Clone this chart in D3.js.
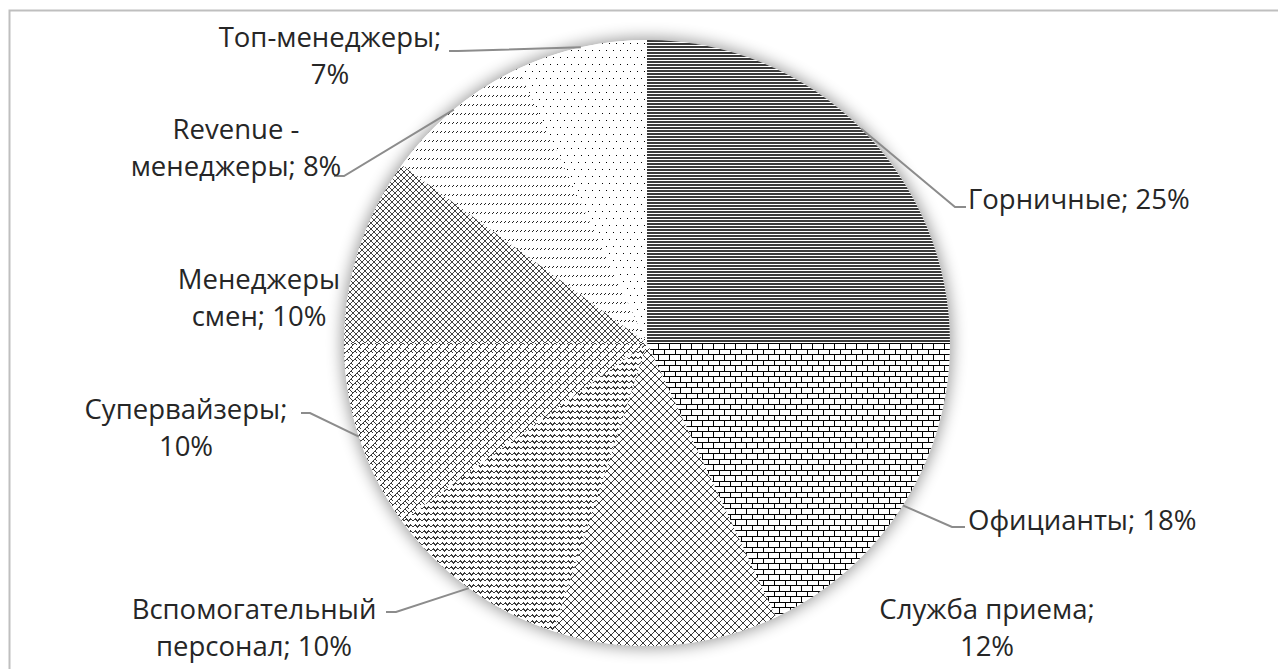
<!DOCTYPE html>
<html>
<head>
<meta charset="utf-8">
<script src="https://cdn.jsdelivr.net/npm/d3@7"></script>
<style>
  body { margin: 0; background: #fff; }
  svg { display: block; }
</style>
</head>
<body>
<div id="chart"></div>
<script>
const categories = ["Горничные", "Официанты", "Служба приема", "Вспомогательный персонал",
                    "Супервайзеры", "Менеджеры смен", "Revenue - менеджеры", "Топ-менеджеры"];
const shares = [25, 18, 12, 10, 10, 10, 8, 7];
const labelLines = [
  ["Горничные; 25%"],
  ["Официанты; 18%"],
  ["Служба приема;", "12%"],
  ["Вспомогательный", "персонал; 10%"],
  ["Супервайзеры;", "10%"],
  ["Менеджеры", "смен; 10%"],
  ["Revenue -", "менеджеры; 8%"],
  ["Топ-менеджеры;", "7%"]
];

// layout of the labels (x / first baseline, anchor, leader elbow and end)
const labelLayout = [
  {x: 968, y: 209, anchor: "start", elbow: [955, 207], end: [966, 207]},
  {x: 968, y: 530, anchor: "start", elbow: [952, 527], end: [965, 527]},
  {x: 987, y: 619, anchor: "middle"},
  {x: 254, y: 619, anchor: "middle", elbow: [396, 612], end: [386, 612]},
  {x: 186, y: 419, anchor: "middle", elbow: [310, 413], end: [301, 413]},
  {x: 259, y: 289, anchor: "middle"},
  {x: 236, y: 139, anchor: "middle", elbow: [344, 176], end: [334, 176]},
  {x: 330, y: 47, anchor: "middle", elbow: [458, 51], end: [449, 51]}
];

const W = 1278, H = 669;
const cx = 647, cy = 343, radius = 303;

const svg = d3.select("#chart").append("svg")
  .attr("width", W).attr("height", H);

const defs = svg.append("defs");

// soft glow under the pie
const glow = defs.append("filter").attr("id", "glow")
  .attr("x", "-20%").attr("y", "-20%").attr("width", "140%").attr("height", "140%");
glow.append("feGaussianBlur").attr("stdDeviation", 8);

function pattern(id, w, h) {
  const p = defs.append("pattern").attr("id", id)
    .attr("patternUnits", "userSpaceOnUse")
    .attr("width", w).attr("height", h);
  p.append("rect").attr("width", w).attr("height", h).attr("fill", "#fff");
  return p;
}

function stroke(p, d, color) {
  p.append("path").attr("d", d)
    .attr("stroke", color).attr("stroke-width", 1)
    .attr("fill", "none").attr("shape-rendering", "crispEdges");
}

// horizontal lines
pattern("p0", 8, 3).append("rect")
  .attr("width", 8).attr("height", 2).attr("fill", "#3a3a3a");

// bricks
let p = pattern("p1", 11, 11);
stroke(p, "M0,0.5H11M0,6.5H11M0.5,0V6M6.5,6V11", "#000");

// large diagonal cross
p = pattern("p2", 8, 8);
stroke(p, "M0,0L8,8M8,0L0,8", "#3a3a3a");

// wave
p = pattern("p3", 9, 6);
stroke(p, "M0,4L2.25,1.5L4.5,4L6.75,1.5L9,4", "#3a3a3a");

// weave
p = pattern("p4", 8, 8);
stroke(p, "M0,4L4,0M4,8L8,4M4,0L6,2M0,4L2,6M6,6L8,8M2,2L0,0", "#3a3a3a");

// small diagonal cross
p = pattern("p5", 6, 6);
stroke(p, "M0,0L6,6M6,0L0,6", "#444");

// dashed upward diagonal
p = pattern("p6", 4, 9);
stroke(p, "M0.5,6.5L3,4", "#222");

// dots
p = pattern("p7", 7, 14);
p.append("rect").attr("x", 1).attr("y", 1).attr("width", 1).attr("height", 1).attr("fill", "#000");
p.append("rect").attr("x", 4).attr("y", 8).attr("width", 1).attr("height", 1).attr("fill", "#000");

// frame
svg.append("rect")
  .attr("x", 9.5).attr("y", 10.5)
  .attr("width", W + 20).attr("height", H + 20)
  .attr("fill", "none").attr("stroke", "#bfbfbf").attr("stroke-width", 2);

const g = svg.append("g").attr("transform", `translate(${cx},${cy})`);

g.append("circle").attr("r", radius + 2)
  .attr("fill", "#000").attr("opacity", 0.4)
  .attr("filter", "url(#glow)");
g.append("circle").attr("r", radius).attr("fill", "#fff");

const pie = d3.pie().sort(null).value(d => d)(shares);
const arc = d3.arc().innerRadius(0).outerRadius(radius);

g.selectAll("path.slice")
  .data(pie)
  .join("path")
  .attr("class", "slice")
  .attr("d", arc)
  .attr("fill", (d, i) => `url(#p${i})`);

// leader lines
const edge = d3.arc().innerRadius(radius).outerRadius(radius);
const leaders = svg.append("g").attr("fill", "none")
  .attr("stroke", "#8c8c8c").attr("stroke-width", 2);

pie.forEach(function(d, i) {
  const L = labelLayout[i];
  if (!L.elbow) return;
  const c = edge.centroid(d);
  const start = [cx + c[0], cy + c[1]];
  leaders.append("polyline")
    .attr("points", [start, L.elbow, L.end].map(q => q.join(",")).join(" "));
});

// labels
const labels = svg.append("g")
  .attr("font-family", "'Open Sans', 'Noto Sans', sans-serif")
  .attr("font-size", 27.5)
  .attr("fill", "#262626");

labelLines.forEach(function(lines, i) {
  const L = labelLayout[i];
  const t = labels.append("text")
    .attr("x", L.x).attr("y", L.y)
    .attr("text-anchor", L.anchor);
  lines.forEach(function(s, k) {
    t.append("tspan").attr("x", L.x).attr("dy", k === 0 ? 0 : 37).text(s);
  });
});
</script>
</body>
</html>
